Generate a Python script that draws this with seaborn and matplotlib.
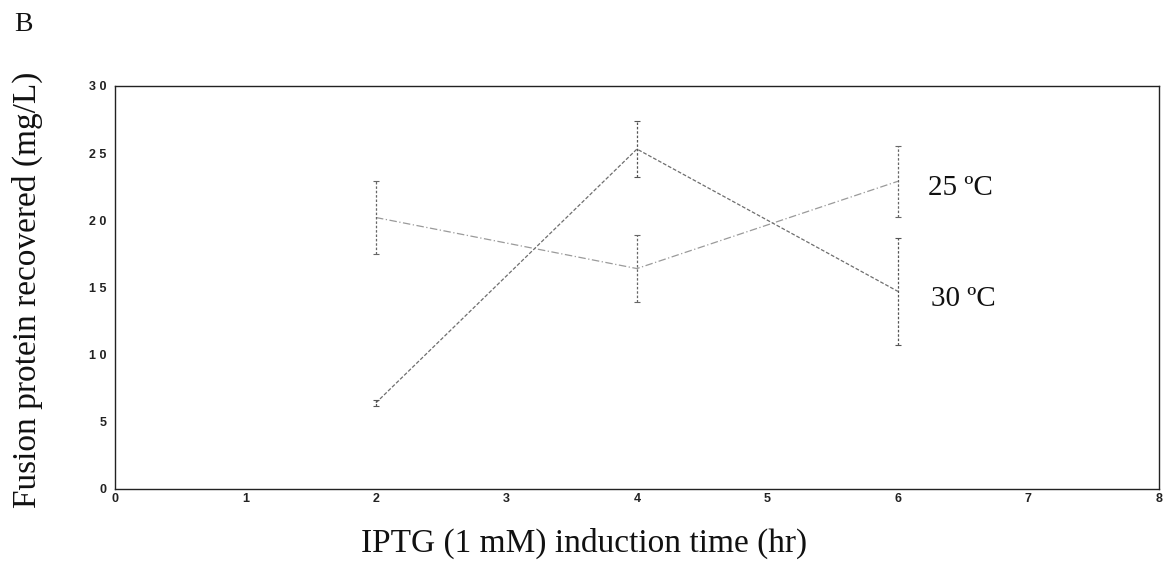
import matplotlib
matplotlib.use("Agg")
import matplotlib.pyplot as plt
import seaborn as sns
import pandas as pd

times = [2, 4, 6]
yield_25 = [20.2, 16.4, 22.9]
err_25 = [2.7, 2.5, 2.65]
yield_30 = [6.4, 25.3, 14.7]
err_30 = [0.2, 2.1, 4.0]
series_labels = ["25 ºC", "30 ºC"]
x_ticks = [0, 1, 2, 3, 4, 5, 6, 7, 8]
y_ticks = [0, 5, 10, 15, 20, 25, 30]
y_tick_labels = ["0", "5", "1 0", "1 5", "2 0", "2 5", "3 0"]

sns.set_theme(style="white")
plt.rcParams["font.family"] = ["Liberation Serif", "DejaVu Serif"]

df = pd.DataFrame({
    "time": times * 2,
    "yield": yield_25 + yield_30,
    "series": [series_labels[0]] * 3 + [series_labels[1]] * 3,
})

fig = plt.figure(figsize=(11.73, 5.73), dpi=100)
ax = fig.add_axes([0.098, 0.147, 0.89, 0.703])

sns.lineplot(data=df, x="time", y="yield", hue="series", style="series",
             palette=["#9a9a9a", "#6e6e6e"],
             dashes=[(6, 2, 1, 2), (3, 1.5)], linewidth=0.9,
             legend=False, ax=ax)

ax.errorbar(times, yield_25, yerr=err_25, fmt="none", ecolor="#666666",
            elinewidth=0.9, capsize=2.5, capthick=0.8)
ax.errorbar(times, yield_30, yerr=err_30, fmt="none", ecolor="#555555",
            elinewidth=0.9, capsize=2.5, capthick=0.8)
for coll in ax.collections:
    coll.set_linestyle((0, (2, 1.5)))

ax.text(6.23, 22.4, series_labels[0], fontsize=21,
        ha="left", va="center", color="#111111")
ax.text(6.25, 14.1, series_labels[1], fontsize=21,
        ha="left", va="center", color="#111111")

ax.set_xlim(0, 8)
ax.set_ylim(0, 30)
ax.set_xticks(x_ticks)
ax.set_xticklabels([str(t) for t in x_ticks], family="Liberation Sans", fontsize=9, fontweight="bold")
ax.set_yticks(y_ticks)
ax.set_yticklabels(y_tick_labels, family="Liberation Sans", fontsize=9, fontweight="bold")
ax.tick_params(direction="in", length=5, width=0.8, colors="#222222", pad=6)
ax.tick_params(axis="x", pad=3)
ax.set_xlabel("")
ax.set_ylabel("")
for sp in ax.spines.values():
    sp.set_color("#222222")
    sp.set_linewidth(1.0)

fig.text(0.023, 0.494, "Fusion protein recovered (mg/L)", fontsize=24,
         rotation=90, ha="center", va="center", color="#111111")
fig.text(0.498, 0.052, "IPTG (1 mM) induction time (hr)", fontsize=24,
         ha="center", va="center", color="#111111")

fig.text(0.012, 0.957, "B", fontsize=20, ha="left", va="center", color="#111111")

fig.savefig("out.png", dpi=100, facecolor="white")
